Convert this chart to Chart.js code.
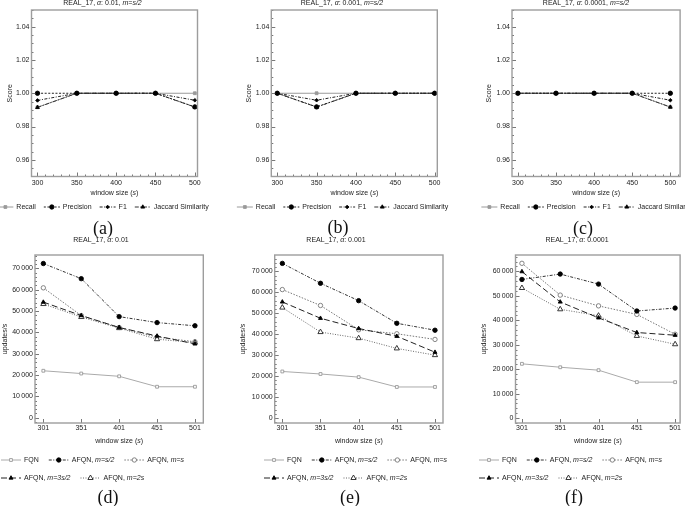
<!DOCTYPE html>
<html><head><meta charset="utf-8">
<script src="https://cdn.jsdelivr.net/npm/chart.js@4.4.0/dist/chart.umd.min.js"></script>
<style>
html,body{margin:0;padding:0;background:#fff;width:685px;height:506px;overflow:hidden;position:relative;}
canvas{position:absolute;}
.lab{position:absolute;font-family:"Liberation Serif","DejaVu Serif",serif;font-size:18px;transform:translate(-50%,-50%);white-space:nowrap;color:#111;line-height:1;}
</style></head><body>
<script>
// ---------- data ----------
const windowsTop = [300, 350, 400, 450, 500];
const windowsBottom = [301, 351, 401, 451, 501];
const scoreTicks = [0.96, 0.98, 1.00, 1.02, 1.04];
const updatesTicks70 = [0, 10000, 20000, 30000, 40000, 50000, 60000, 70000];
const updatesTicks60 = [0, 10000, 20000, 30000, 40000, 50000, 60000];
const scoreNames = ['Recall', 'Precision', 'F1', 'Jaccard Similarity'];
const rateNames = ['FQN', 'AFQN, *m=s/2*', 'AFQN, *m=s*', 'AFQN, *m=3s/2*', 'AFQN, *m=2s*'];

// (a) alpha 0.01
const recallA    = [0.9916, 1, 1, 1, 1];
const precisionA = [1, 1, 1, 1, 0.9918];
const f1A        = [0.9957, 1, 1, 1, 0.9958];
const jaccardA   = [0.9915, 1, 1, 1, 0.9917];
// (b) alpha 0.001
const recallB    = [1, 1, 1, 1, 1];
const precisionB = [1, 0.9918, 1, 1, 1];
const f1B        = [1, 0.9958, 1, 1, 1];
const jaccardB   = [1, 0.9917, 1, 1, 1];
// (c) alpha 0.0001
const recallC    = [1, 1, 1, 1, 0.9917];
const precisionC = [1, 1, 1, 1, 1];
const f1C        = [1, 1, 1, 1, 0.9958];
const jaccardC   = [1, 1, 1, 1, 0.9917];
// (d) alpha 0.01
const fqnD  = [22000, 20700, 19400, 14500, 14500];
const s2D   = [72300, 65200, 47400, 44600, 43100];
const sD    = [60900, 47900, 42300, 37800, 35600];
const s32D  = [54200, 47900, 42300, 38300, 34600];
const twoSD = [53300, 47200, 42000, 36800, 35200];
// (e) alpha 0.001
const fqnE  = [22200, 21000, 19500, 14800, 14800];
const s2E   = [73800, 64300, 56000, 45200, 41900];
const sE    = [61300, 53700, 42100, 40200, 37500];
const s32E  = [55400, 47600, 42700, 39000, 31400];
const twoSE = [52700, 41000, 38100, 33200, 30000];
// (f) alpha 0.0001
const fqnF  = [22200, 20800, 19600, 14700, 14700];
const s2F   = [56700, 58900, 54800, 43800, 45000];
const sF    = [63300, 50300, 45900, 42400, 34300];
const s32F  = [59900, 47500, 41000, 35000, 33900];
const twoSF = [53200, 44500, 41900, 33600, 30200];

// ---------- styles ----------
const scoreStyles = [
  {color:'#9a9a9a', dash:[], point:'rect', r:2, fill:'#9a9a9a', stroke:'#9a9a9a', order:3},
  {color:'#222', dash:[2,1.6], point:'circle', r:2.2, fill:'#000', stroke:'#000', order:0},
  {color:'#222', dash:[3,1.5,1,1.5], point:'rectRot', r:1.8, fill:'#000', stroke:'#000', order:2},
  {color:'#333', dash:[4,1.5,1.2,1.5], point:'triangle', r:2.2, fill:'#000', stroke:'#000', order:1}
];
const rateStyles = [
  {color:'#aaaaaa', dash:[], point:'rect', r:2, fill:'#fff', stroke:'#999', order:4},
  {color:'#333', dash:[3,1.5,1,1.5], point:'circle', r:2.2, fill:'#000', stroke:'#000', order:0},
  {color:'#777', dash:[1.5,1.5], point:'circle', r:2.2, fill:'#fff', stroke:'#777', order:3},
  {color:'#222', dash:[6,3], point:'triangle', r:2.3, fill:'#000', stroke:'#000', order:1},
  {color:'#666', dash:[1,1.5], point:'triangle', r:3, fill:'#fff', stroke:'#222', order:2}
];

const FONT = '"Liberation Sans", Arial, Helvetica, sans-serif';
function parseRich(s){ return s.split('*').map((t,i)=>[t, i%2===1]).filter(p=>p[0].length); }
function setFont(ctx,size,it){ ctx.font=(it?'italic ':'')+size+'px '+FONT; }
function richWidth(ctx,s,size){ let w=0; for(const [t,it] of parseRich(s)){ setFont(ctx,size,it); w+=ctx.measureText(t).width; } return w; }
function drawRich(ctx,s,x,y,size,align){
  const w=richWidth(ctx,s,size);
  let cx = align==='center' ? x-w/2 : (align==='right' ? x-w : x);
  ctx.textAlign='left'; ctx.textBaseline='middle';
  for(const [t,it] of parseRich(s)){ setFont(ctx,size,it); ctx.fillText(t,cx,y); cx+=ctx.measureText(t).width; }
  return w;
}
function strip(s){ return s.replace(/\*/g,''); }
function marker(ctx, st, x, y){
  ctx.save(); ctx.setLineDash([]); ctx.fillStyle=st.fill; ctx.strokeStyle=st.stroke; ctx.lineWidth=0.9;
  Chart.helpers.drawPoint(ctx, {pointStyle:st.point, radius:st.r, borderWidth:0.9, rotation:0}, x, y);
  ctx.restore();
}

function fmtRate(v){ return v===0 ? '0' : (Math.round(v/1000)) + '\u2009000'; }

function makePanel(p){
  const cv=document.createElement('canvas');
  cv.width=p.w; cv.height=p.h;
  cv.style.left=p.x+'px'; cv.style.top=p.y+'px'; cv.style.width=p.w+'px'; cv.style.height=p.h+'px';
  document.body.appendChild(cv);
  const L=p.area[0]-p.x, T=p.area[1]-p.y, R=p.area[2]-p.x, B=p.area[3]-p.y;
  const styles=p.styles, names=p.names;
  const datasets=p.series.map((vals,i)=>({
    label: strip(names[i]),
    data: vals.map((v,j)=>({x:p.xs[j], y:v})),
    borderColor: styles[i].color, borderWidth: 1, borderDash: styles[i].dash,
    pointStyle: styles[i].point, pointRadius: styles[i].r, pointBackgroundColor: styles[i].fill,
    pointBorderColor: styles[i].stroke, pointBorderWidth: 0.9, tension: 0, fill:false, order: styles[i].order
  }));
  const deco={id:'deco', afterDraw(chart){
    const ctx=chart.ctx, a=chart.chartArea, xs=chart.scales.x, ys=chart.scales.y;
    ctx.save();
    ctx.setLineDash([]);
    // ticks (inward)
    ctx.strokeStyle='#555'; ctx.lineWidth=0.8; ctx.beginPath();
    const isMajor=(v,list,st)=>list.some(m=>Math.abs(m-v)<st/100);
    p.xTicks.forEach(v=>{ const px=Math.round(xs.getPixelForValue(v))+0.5; ctx.moveTo(px,a.bottom); ctx.lineTo(px,a.bottom-4); });
    p.yTicks.forEach(v=>{ const py=Math.round(ys.getPixelForValue(v))+0.5; ctx.moveTo(a.left,py); ctx.lineTo(a.left+4,py); });
    if(p.minorX){ for(let k=Math.ceil(xs.min/p.minorX);k<=Math.floor(xs.max/p.minorX);k++){ const v=k*p.minorX; if(v<xs.min||v>xs.max||isMajor(v,p.xTicks,p.minorX)) continue; const px=Math.round(xs.getPixelForValue(v))+0.5; ctx.moveTo(px,a.bottom); ctx.lineTo(px,a.bottom-2); } }
    if(p.minorY){ for(let k=Math.ceil(ys.min/p.minorY);k<=Math.floor(ys.max/p.minorY);k++){ const v=k*p.minorY; if(isMajor(v,p.yTicks,p.minorY)) continue; const py=Math.round(ys.getPixelForValue(v))+0.5; ctx.moveTo(a.left,py); ctx.lineTo(a.left+2,py); } }
    ctx.stroke();
    // frame
    ctx.strokeStyle='#9d9d9d'; ctx.lineWidth=1.4;
    ctx.strokeRect(a.left, a.top, a.right-a.left, a.bottom-a.top);
    // texts
    ctx.fillStyle='#222';
    drawRich(ctx, p.title, p.titleX-p.x, p.titleY-p.y, 7, 'center');
    drawRich(ctx, 'window size (*s*)', (a.left+a.right)/2, p.xTitleY-p.y, 7, 'center');
    ctx.save(); ctx.translate(a.left-p.yOff, (a.top+a.bottom)/2); ctx.rotate(-Math.PI/2);
    drawRich(ctx, p.yTitle, 0, 0, 7, 'center'); ctx.restore();
    // legend
    const SL=p.sampleLen, GT=3, GI=p.gapItem;
    p.legendRows.forEach((row,ri)=>{
      let w=0; row.forEach((i,k)=>{ w+=SL+GT+richWidth(ctx,names[i],7)+(k?GI:0); });
      let sx = p.legendAlign==='center' ? p.legendX-p.x-w/2 : p.legendX-p.x;
      const y=p.legendY[ri]-p.y;
      row.forEach(i=>{
        const st=styles[i];
        ctx.save(); ctx.strokeStyle=st.color; ctx.lineWidth=1; ctx.setLineDash(st.dash);
        ctx.beginPath(); ctx.moveTo(sx,y); ctx.lineTo(sx+SL,y); ctx.stroke(); ctx.restore();
        marker(ctx, st, sx+SL/2, y);
        ctx.fillStyle='#222';
        const tw=drawRich(ctx, names[i], sx+SL+GT, y, 7, 'left');
        sx+=SL+GT+tw+GI;
      });
    });
    ctx.restore();
  }};
  new Chart(cv.getContext('2d'), {
    type:'line',
    data:{datasets},
    options:{
      responsive:false, animation:false, devicePixelRatio:1,
      layout:{padding:{left:0, top:T, right:p.w-R, bottom:p.h-B-p.xh}},
      plugins:{legend:{display:false}, tooltip:{enabled:false}, title:{display:false}},
      scales:{
        x:{type:'linear', min:p.xr[0], max:p.xr[1],
           afterBuildTicks:s=>{ s.ticks=p.xTicks.map(v=>({value:v})); },
           afterFit:s=>{ s.height=p.xh; },
           grid:{display:false, drawTicks:false}, border:{display:false},
           ticks:{autoSkip:false, maxRotation:0, padding:p.xPad, color:'#222', font:{family:FONT, size:7}, callback:v=>String(v)}},
        y:{type:'linear', min:p.yr[0], max:p.yr[1],
           afterBuildTicks:s=>{ s.ticks=p.yTicks.map(v=>({value:v})); },
           afterFit:s=>{ s.width=L; },
           grid:{display:false, drawTicks:false}, border:{display:false},
           ticks:{autoSkip:false, padding:p.yPad, color:'#222', font:{family:FONT, size:7}, callback:p.yFmt}}
      }
    },
    plugins:[deco]
  });
}

const common = {
  score:{h:232, y:0, kind:'score', xs:windowsTop, xTicks:windowsTop, yTicks:scoreTicks, styles:scoreStyles, names:scoreNames,
    yr:[0.95,1.05], xh:12, xPad:2, yPad:2, minorX:10, minorY:0.005, yTitle:'Score', titleY:3, xTitleY:193,
    legendRows:[[0,1,2,3]], legendY:[207], legendAlign:'center', sampleLen:16, gapItem:8, yFmt:v=>v.toFixed(2)},
  rate:{h:274, y:232, kind:'rate', xs:windowsBottom, xTicks:windowsBottom, styles:rateStyles, names:rateNames,
    xh:12, xPad:1, yPad:2, minorX:0, minorY:2000, yTitle:'updates/s', titleY:240, xTitleY:441,
    legendRows:[[0,1,2],[3,4]], legendY:[460,478], legendAlign:'left', sampleLen:20, gapItem:10, yFmt:fmtRate}
};

const panels=[
  Object.assign({}, common.score, {id:'a', x:0, w:228, area:[31.5,10,197.5,176.5], xr:[292.4,503.4], series:[recallA,precisionA,f1A,jaccardA],
    title:'REAL_17, *α*: 0.01, *m=s/2*', titleX:102.5, yOff:21, legendX:103}),
  Object.assign({}, common.score, {id:'b', x:228, w:228, area:[271.3,10,437.3,176.5], xr:[292.4,503.4], series:[recallB,precisionB,f1B,jaccardB],
    title:'REAL_17, *α*: 0.001, *m=s/2*', titleX:342, yOff:22, legendX:342.5}),
  Object.assign({}, common.score, {id:'c', x:456, w:229, area:[512,10,684.3,176.5], xr:[292.3,512.8], series:[recallC,precisionC,f1C,jaccardC],
    title:'REAL_17, *α*: 0.0001, *m=s/2*', titleX:586, yOff:23, legendX:587}),
  Object.assign({}, common.rate, {id:'d', x:0, w:228, area:[35,255,203.3,423], xr:[290,512], yr:[-2500,76300], yTicks:updatesTicks70, series:[fqnD,s2D,sD,s32D,twoSD],
    title:'REAL_17, *α*: 0.01', titleX:101, yOff:30, legendX:1}),
  Object.assign({}, common.rate, {id:'e', x:228, w:228, area:[274.7,255,443,423], xr:[291,511.5], yr:[-2400,77800], yTicks:updatesTicks70, series:[fqnE,s2E,sE,s32E,twoSE],
    title:'REAL_17, *α*: 0.001', titleX:336, yOff:32, legendX:264}),
  Object.assign({}, common.rate, {id:'f', x:456, w:229, area:[515.5,255,684.5,423], xr:[292.6,507.5], yr:[-2000,66700], yTicks:updatesTicks60, series:[fqnF,s2F,sF,s32F,twoSF],
    title:'REAL_17, *α*: 0.0001', titleX:577, yOff:31, legendX:479})
];
panels.forEach(makePanel);

const labels=[['(a)',103,228],['(b)',338,227],['(c)',583,228],['(d)',108,497],['(e)',350,497],['(f)',574,497]];
labels.forEach(([t,x,y])=>{ const d=document.createElement('div'); d.className='lab'; d.textContent=t; d.style.left=x+'px'; d.style.top=y+'px'; document.body.appendChild(d); });
</script>
</body></html>
